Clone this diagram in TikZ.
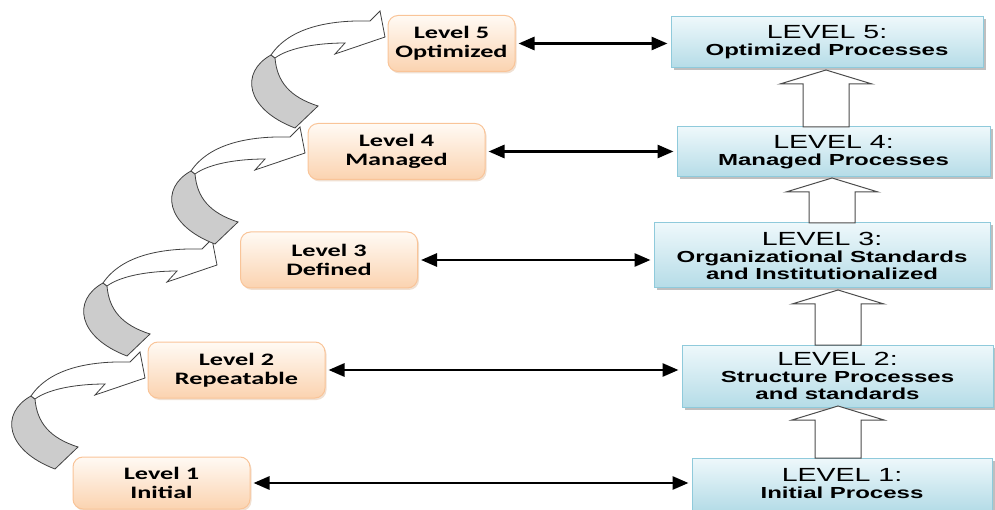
\documentclass[tikz,border=0pt]{standalone}
\usepackage{fontspec}
\setmainfont{Liberation Sans}[FakeStretch=1.5]
\newfontfamily\lvfont{Carlito}[FakeStretch=1.5]
\usetikzlibrary{arrows.meta,shadows}
\definecolor{peachtop}{HTML}{FFFAF4}
\definecolor{peachbot}{HTML}{FBD3B0}
\definecolor{peachline}{HTML}{F9C498}
\definecolor{icetop}{HTML}{EEF8FB}
\definecolor{icebot}{HTML}{B5DCE7}
\definecolor{iceline}{HTML}{8FCADB}
\definecolor{ribbon}{HTML}{CCCCCC}
\newcommand{\lvhead}[1]{{\mdseries\fontsize{19}{19}\selectfont LEVEL #1:}}
% upward block arrow: x, bottom y, tip y
\newcommand{\blockup}[3]{%
  \draw[blockarr] (#1-23,#2) -- (#1-23,#3+14) -- (#1-46,#3+14) -- (#1,#3)
    -- (#1+46,#3+14) -- (#1+23,#3+14) -- (#1+23,#2) -- cycle;}
\tikzset{
  stage/.style={draw=peachline, line width=1pt, rounded corners=10pt,
    top color=peachtop, bottom color=peachbot, minimum height=56pt,
    minimum width=177pt, inner sep=0pt, align=center,
    font=\lvfont\bfseries\fontsize{17.5}{19}\selectfont,
    drop shadow={shadow xshift=1.5pt, shadow yshift=-2pt, fill=peachbot!80!gray, opacity=0.5}},
  proc/.style={draw=iceline, line width=1pt, top color=icetop, bottom color=icebot,
    inner sep=0pt, align=center, font=\bfseries\fontsize{16}{17}\selectfont,
    drop shadow={shadow xshift=2.5pt, shadow yshift=-2.5pt, fill=gray, opacity=0.5}},
  link/.style={{Triangle[length=16pt,width=13pt]}-{Triangle[length=16pt,width=13pt]},
    line width=2.8pt, shorten <=3pt, shorten >=3pt},
  blockarr/.style={draw=black!70, fill=white, line width=1pt},
  stairarrow/.pic={
    % back side of the ribbon
    \filldraw[fill=ribbon, draw=black!75, line width=0.8pt]
      (-114,18) .. controls (-145,35) and (-140,72) .. (-90,91) -- (-67,69)
      .. controls (-95,60) and (-108,45) .. (-110,21) -- cycle;
    % front side with the head
    \filldraw[fill=white, draw=black!75, line width=0.8pt]
      (-114,18) .. controls (-95,-10) and (-55,-17) .. (-15,-16) -- (-5,-26) -- (0,0)
      -- (-50,17) -- (-40,6) .. controls (-65,6) and (-95,10) .. (-110,21) -- cycle;
  }
}
\begin{document}
\begin{tikzpicture}[x=1pt,y=-1pt]
\useasboundingbox (0,0) rectangle (995,510);
% stair arrows
\foreach \tx/\ty in {145/378,217/265,305/153,385/37}
  \pic at (\tx,\ty) {stairarrow};
% maturity levels
\node[stage, minimum width=127pt] (lv5) at (451.5,43.5) {Level 5\\Optimized};
\node[stage] (lv4) at (396.5,151.5) {Level 4\\Managed};
\node[stage] (lv3) at (329,260) {Level 3\\Defined};
\node[stage] (lv2) at (236.5,370) {Level 2\\Repeatable};
\node[stage, minimum height=52pt] (lv1) at (161.5,483) {Level 1\\Initial};
% process boxes
\node[proc, minimum width=312pt, minimum height=51pt] (pr5) at (827,42.5) {\lvhead{5}\\Optimized Processes};
\node[proc, minimum width=313pt, minimum height=50pt] (pr4) at (833.5,152) {\lvhead{4}\\Managed Processes};
\node[proc, minimum width=336pt, minimum height=65pt] (pr3) at (822,255.5) {\lvhead{3}\\Organizational Standards\\and Institutionalized};
\node[proc, minimum width=311pt, minimum height=62pt] (pr2) at (837.5,376) {\lvhead{2}\\Structure Processes\\and standards};
\node[proc, minimum width=300pt, minimum height=52pt] (pr1) at (842,484) {\lvhead{1}\\Initial Process};
% links
\foreach \i in {1,...,5}
  \draw[link] (lv\i.east) -- (lv\i.east -| pr\i.west);
% block arrows
\blockup{826}{127}{70}
\blockup{832}{223}{178}
\blockup{838}{345}{290}
\blockup{838}{458}{406}
\end{tikzpicture}
\end{document}
